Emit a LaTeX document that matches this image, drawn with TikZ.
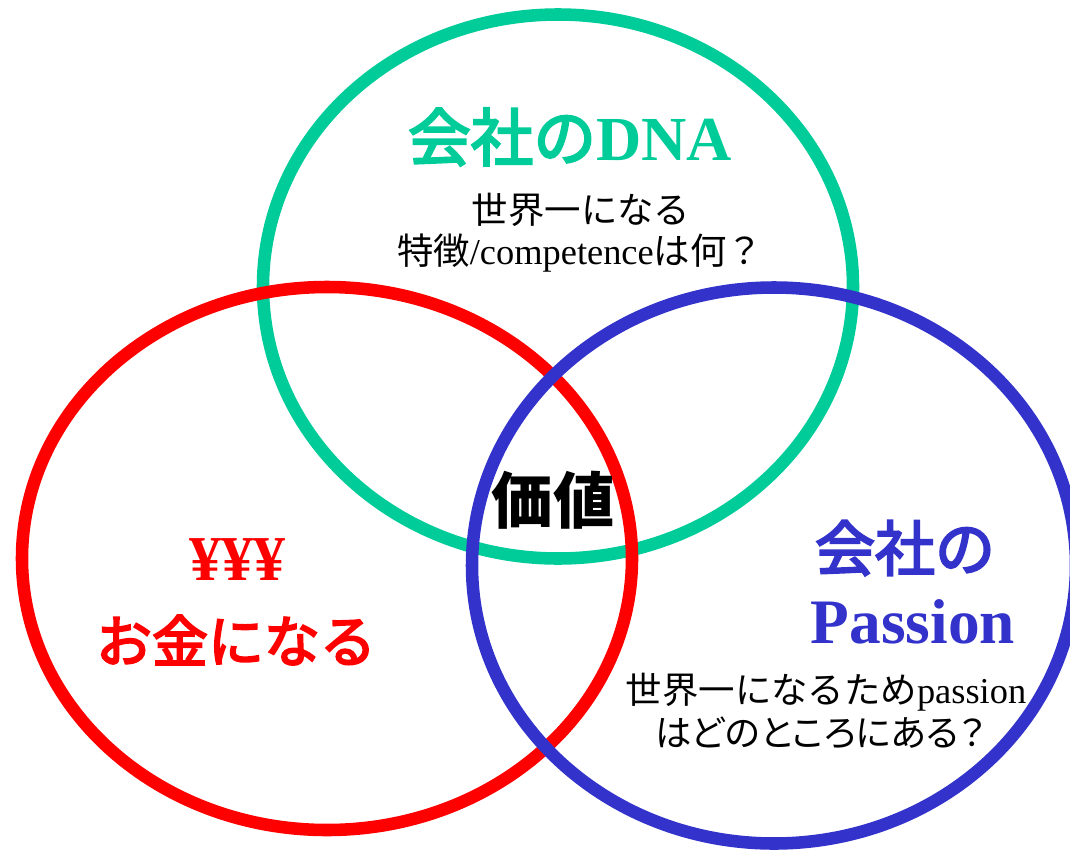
\documentclass[tikz,border=0pt]{standalone}
\usepackage{fontspec}
\setmainfont{Liberation Serif}
\newfontfamily\jp{Noto Sans CJK JP}
\newfontfamily\jpm{Noto Sans CJK JP}[FakeBold=3.5]
\newfontfamily\jpp{Noto Sans CJK JP}[RawFeature=+palt]
\definecolor{dnagreen}{RGB}{0,204,153}
\definecolor{moneyred}{RGB}{255,0,0}
\definecolor{passblue}{RGB}{51,51,204}
\begin{document}
\begin{tikzpicture}[x=0.75pt,y=-0.75pt,
  ring/.style={line width=9.4pt},
  lbl/.style={inner sep=0pt,outer sep=0pt,align=center},
  body/.style={lbl,font=\fontsize{27.3}{32}\selectfont}]
\useasboundingbox (0,0) rectangle (1070,849);
\begin{scope}
\clip (0,0) rectangle (1070,849);
\draw[ring,dnagreen] (558,286.5) ellipse [x radius=295,y radius=272];
\draw[ring,moneyred] (327,558.5) ellipse [x radius=305,y radius=271.5];
\draw[ring,passblue] (774,565.5) ellipse [x radius=302,y radius=278];
\end{scope}
% DNA circle
\node[lbl,text=dnagreen,font=\fontsize{47}{52}\selectfont] (dna) at (570,137) {{\jpm 会社の}\textbf{DNA}};
\node[body] (dna1) at (581,210) {{\jp 世界一になる}};
\node[body] (dna2) at (580,253) {{\jp 特徴}/competence{\jp は何？}};
% value
\node[lbl,font=\fontsize{46}{50}\selectfont\bfseries] (value) at (553,500) {{\jp 価値}};
% money
\node[lbl,text=moneyred,font=\fontsize{48}{52}\selectfont\bfseries] (yen) at (237,560) {¥¥¥};
\node[lbl,text=moneyred,font=\fontsize{42}{48}\selectfont] (money) at (236,640) {{\jpm お金になる}};
% passion
\node[lbl,text=passblue,font=\fontsize{45}{50}\selectfont] (pass1) at (905,548) {{\jpm 会社の}};
\node[lbl,text=passblue,font=\fontsize{47.5}{50}\selectfont\bfseries] (pass2) at (913,622) {Passion};
\node[body] (pass3) at (826,692) {{\jp 世界一になるため}passion};
\node[body] (pass4) at (820,733) {{\jpp はどのところにある？}};
\end{tikzpicture}
\end{document}
